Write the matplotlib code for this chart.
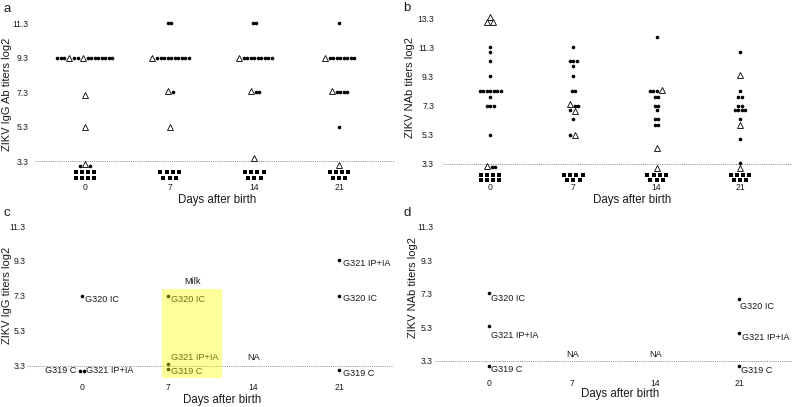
import math
import matplotlib
matplotlib.use('Agg')
import matplotlib.pyplot as plt
from matplotlib.transforms import ScaledTranslation
from matplotlib.patches import Rectangle

plt.rcParams['font.family'] = ['Liberation Sans', 'DejaVu Sans']

# ---------------- data ----------------
DAYS = [0, 7, 14, 21]
DAY_LABELS = ['0', '7', '14', '21']
YTICKS_A = [3.3, 5.3, 7.3, 9.3, 11.3]
YTICKS_B = [3.3, 5.3, 7.3, 9.3, 11.3, 13.3]
LOD = 3.3

# panel a: ZIKV IgG Ab titers (log2); kind 'd' = filled circle, 't' = open triangle
a0_vals = [9.3, 9.3, 9.3, 9.3, 9.3, 9.3, 9.3, 9.3, 9.3, 9.3, 9.3, 9.3, 9.3, 9.3, 9.3,
           7.15, 5.3, 3.0, 3.1, 3.0]
a0_kind = "dddtddtddddddddttdtd"
a7_vals = [11.3, 11.3, 9.3, 9.3, 9.3, 9.3, 9.3, 9.3, 9.3, 9.3, 9.3, 9.3, 9.3,
           7.35, 7.3, 5.3]
a7_kind = "ddtddddddddddtdt"
a14_vals = [11.3, 11.3, 9.3, 9.3, 9.3, 9.3, 9.3, 9.3, 9.3, 9.3, 9.3, 9.3,
            7.35, 7.3, 7.3, 3.45]
a14_kind = "ddtdddddddddtddt"
a21_vals = [11.3, 9.3, 9.3, 9.3, 9.3, 9.3, 9.3, 9.3, 9.3, 9.3,
            7.35, 7.3, 7.3, 7.3, 7.3, 5.3, 3.05]
a21_kind = "dtddddddddtdddddt"
a_below = [8, 7, 7, 7]   # samples below detection limit

# panel b: ZIKV NAb titers (log2)
b0_vals = [13.35, 13.05, 13.05, 11.3, 11.0, 10.35, 9.3,
           8.3, 8.3, 8.3, 8.3, 8.3, 8.3, 8.3, 7.9, 7.3, 7.3, 7.3, 5.3,
           3.15, 3.1, 3.1]
b0_kind = "tttddddddddddddddddtdd"
b7_vals = [11.35, 10.35, 10.35, 10.35, 10.0, 9.3, 8.3, 8.3,
           7.4, 7.3, 7.3, 7.0, 6.95, 6.4, 5.3, 5.3]
b7_kind = "ddddddddtdddtddt"
b14_vals = [12.0, 8.3, 8.3, 8.3, 8.4, 7.9, 7.9, 7.3, 7.3, 7.0,
            6.4, 6.4, 5.95, 5.95, 4.4, 3.05]
b14_kind = "ddddtdddddddddtt"
b21_vals = [11.0, 9.4, 8.3, 7.9, 7.9, 7.3, 7.3, 7.0, 7.0, 7.0, 7.0,
            6.4, 6.0, 5.0, 3.35, 3.05]
b21_kind = "dtddddddddddtddt"
b_below = [8, 7, 7, 7]

# panel c: ZIKV IgG titers (log2), individual animals
c_days = [0, 0, 0, 7, 7, 7, 21, 21, 21]
c_values = [7.3, 3.0, 3.0, 7.3, 3.4, 3.1, 9.35, 7.3, 3.05]
c_labels = ['G320 IC', 'G319 C', 'G321 IP+IA', 'G320 IC', 'G321 IP+IA', 'G319 C',
            'G321 IP+IA', 'G320 IC', 'G319 C']
c_na_days = [14]

# panel d: ZIKV NAb titers (log2), individual animals
d_days = [0, 0, 0, 21, 21, 21]
d_values = [7.35, 5.35, 3.0, 7.0, 4.95, 3.0]
d_labels = ['G320 IC', 'G321 IP+IA', 'G319 C', 'G320 IC', 'G321 IP+IA', 'G319 C']
d_na_days = [7, 14]

# ---------------- layout / style ----------------
DPI = 100
FW, FH = 794, 407
fig = plt.figure(figsize=(FW / DPI, FH / DPI), dpi=DPI)
TXT = '#1a1a1a'
TICK_FS = 6.2


def add_ax(l, t, r, b):
    return fig.add_axes([l / FW, 1 - b / FH, (r - l) / FW, (b - t) / FH])


def ftxt(x, y, s, **kw):
    fig.text(x / FW, 1 - y / FH, s, color=TXT, **kw)


def shift(ax, dx, dy=0.0):
    return ax.transData + ScaledTranslation(dx / DPI, dy / DPI, fig.dpi_scale_trans)


WID = {'d': 3.5, 't': 6.5}
DOT_MS = 2.6


def swarm_offsets(vals, kinds, tol=0.15):
    rows = []
    for i, v in enumerate(vals):
        for r in rows:
            if abs(vals[r[0]] - v) <= tol:
                r.append(i)
                break
        else:
            rows.append([i])
    dx = [0.0] * len(vals)
    for r in rows:
        ws = [WID[kinds[i]] for i in r]
        pos = -sum(ws) / 2
        for i, w in zip(r, ws):
            dx[i] = pos + w / 2
            pos += w
    return dx


def draw_swarm(ax, day, vals, kinds):
    for v, k, dx in zip(vals, kinds, swarm_offsets(vals, kinds)):
        if k == 'd':
            ax.plot([day], [v], 'o', ms=DOT_MS, mfc='k', mec='k', mew=0,
                    transform=shift(ax, dx), clip_on=False, zorder=3)
        else:
            ax.plot([day], [v], '^', ms=4.8, mfc='white', mec='k', mew=0.6,
                    transform=shift(ax, dx), clip_on=False, zorder=4)


def draw_below(ax, day, n):
    ncol = math.ceil(n / 2)
    for ri, cnt in enumerate([ncol, n - ncol]):
        for j in range(cnt):
            dx = (j - (cnt - 1) / 2) * 6.2
            dy = -11 - ri * 5.5
            ax.plot([day], [LOD], 's', ms=3.4, color='k', mew=0,
                    transform=shift(ax, dx, dy), clip_on=False, zorder=3)


def style(ax, xlim, ylim, yticks, ypad):
    ax.set_xlim(*xlim)
    ax.set_ylim(*ylim)
    ax.set_xticks(DAYS)
    ax.set_xticklabels(DAY_LABELS)
    ax.set_yticks(yticks)
    ax.set_yticklabels([f'{t:.1f}' for t in yticks])
    for s in ax.spines.values():
        s.set_visible(False)
    ax.tick_params(axis='both', length=0, labelsize=TICK_FS, colors=TXT)
    ax.tick_params(axis='y', pad=ypad)
    ax.tick_params(axis='x', pad=1.0)
    ax.axhline(LOD, ls=(0, (1.3, 1.3)), lw=0.6, color='#808080', zorder=1)
    ax.patch.set_alpha(0)


# ---- panel a ----
ax_a = add_ax(35, 8, 395, 182)
style(ax_a, (-4.13, 25.63), (2.08, 12.19), YTICKS_A, 4.5)
for day, vals, kinds, nb in zip(DAYS, [a0_vals, a7_vals, a14_vals, a21_vals],
                                [a0_kind, a7_kind, a14_kind, a21_kind], a_below):
    draw_swarm(ax_a, day, vals, kinds)
    draw_below(ax_a, day, nb)

# ---- panel b ----
ax_b = add_ax(443, 8, 792, 182)
style(ax_b, (-3.95, 25.37), (2.06, 14.0), YTICKS_B, 6.5)
for day, vals, kinds, nb in zip(DAYS, [b0_vals, b7_vals, b14_vals, b21_vals],
                                [b0_kind, b7_kind, b14_kind, b21_kind], b_below):
    draw_swarm(ax_b, day, vals, kinds)
    draw_below(ax_b, day, nb)


def draw_labeled(ax, days, vals, labels, ldx, ldy, lha):
    offs = [0.0] * len(vals)
    for day in sorted(set(days)):
        idx = [i for i, d in enumerate(days) if d == day]
        sub = swarm_offsets([vals[i] for i in idx], 'd' * len(idx))
        for i, o in zip(idx, sub):
            offs[i] = o
    for i, (day, v, lab) in enumerate(zip(days, vals, labels)):
        ax.plot([day], [v], 'o', ms=DOT_MS, mfc='k', mec='k', mew=0,
                transform=shift(ax, offs[i]), clip_on=False, zorder=3)
        ax.text(day, v, lab, transform=shift(ax, offs[i] + ldx[i], ldy[i]),
                ha=lha[i], va='center', fontsize=6.6, color=TXT, zorder=3)


# ---- panel c ----
ax_c = add_ax(27, 214, 393, 382)
style(ax_c, (-4.49, 25.4), (2.36, 11.99), YTICKS_A, 1.2)
draw_labeled(ax_c, c_days, c_values, c_labels,
             [3.5, -4.0, 2.5, 3.0, 3.0, 3.0, 4.0, 4.0, 4.0],
             [-3.7, 0.0, 0.0, -3.7, 6.6, -2.7, -3.0, -3.0, -4.0],
             ['left', 'right', 'left', 'left', 'left', 'left', 'left', 'left', 'left'])
for day in c_na_days:
    ax_c.text(day, LOD, 'NA', transform=shift(ax_c, 0, 8), ha='center', va='center',
              fontsize=6.6, color=TXT)
milk_box = Rectangle((6.55, 2.61), 4.9, 5.09, facecolor='#ffff00', alpha=0.4,
                     lw=0, zorder=5)
ax_c.add_patch(milk_box)
ax_c.text(9.0, 7.7, 'Milk', transform=shift(ax_c, 0, 7.5), ha='center', va='center',
          fontsize=6.6, color=TXT)

# ---- panel d ----
ax_d = add_ax(435, 214, 792, 377.5)
style(ax_d, (-4.54, 25.45), (2.3, 12.06), YTICKS_A, 1.5)
draw_labeled(ax_d, d_days, d_values, d_labels,
             [1.5, 1.5, 1.5, 1.0, 2.5, 1.5],
             [-5.3, -8.7, -3.3, -7.3, -4.0, -5.0],
             ['left'] * 6)
for day in d_na_days:
    ax_d.text(day, LOD, 'NA', transform=shift(ax_d, 0, 6), ha='center', va='center',
              fontsize=6.6, color=TXT)

# ---- axis labels & panel letters ----
ftxt(7, 94, 'ZIKV IgG Ab titers log2', rotation=90, ha='center', va='center', fontsize=8)
ftxt(410, 88, 'ZIKV NAb titers log2', rotation=90, ha='center', va='center', fontsize=8)
ftxt(7, 295, 'ZIKV IgG titers log2', rotation=90, ha='center', va='center', fontsize=8)
ftxt(413, 287, 'ZIKV NAb titers log2', rotation=90, ha='center', va='center', fontsize=8)
ftxt(217.5, 200, 'Days after birth', ha='center', va='center', fontsize=8.3)
ftxt(632, 200, 'Days after birth', ha='center', va='center', fontsize=8.3)
ftxt(222, 400, 'Days after birth', ha='center', va='center', fontsize=8.3)
ftxt(620, 394, 'Days after birth', ha='center', va='center', fontsize=8.3)
ftxt(3, 12, 'a', ha='left', va='baseline', fontsize=9.5)
ftxt(403, 10.7, 'b', ha='left', va='baseline', fontsize=9.5)
ftxt(3, 216, 'c', ha='left', va='baseline', fontsize=9.5)
ftxt(403, 216, 'd', ha='left', va='baseline', fontsize=9.5)

fig.savefig('out.png', dpi=DPI)
